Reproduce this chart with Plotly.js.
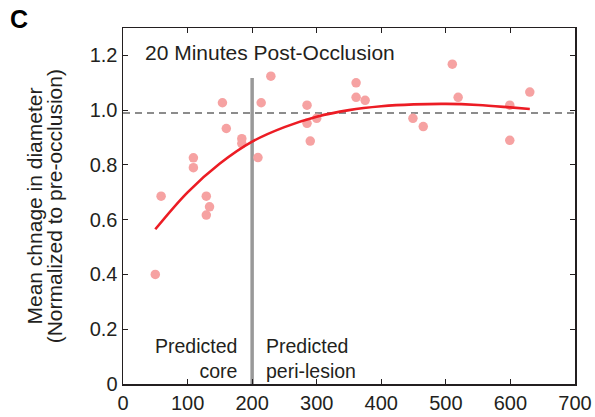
<!DOCTYPE html>
<html>
<head>
<meta charset="utf-8">
<script src="https://cdn.plot.ly/plotly-3.0.1.min.js"></script>
<style>html,body{margin:0;padding:0;background:#fff;}#chart{width:595px;height:417px;}</style>
</head>
<body>
<div id="chart"></div>
<script>
// Scatter data: distance (x) vs normalized mean change in diameter (y)
const pointX = [50, 59, 109, 109, 129, 129, 134, 154, 160, 184, 184, 209, 214, 229, 285, 285, 290, 300, 361, 361, 375, 449, 465, 510, 519, 599, 599, 630];
const pointY = [0.40, 0.686, 0.826, 0.79, 0.686, 0.617, 0.647, 1.027, 0.933, 0.896, 0.878, 0.827, 1.027, 1.124, 1.018, 0.952, 0.887, 0.97, 1.10, 1.047, 1.036, 0.97, 0.94, 1.168, 1.047, 1.018, 0.89, 1.066];

// Fitted curve
const fitX = [50, 100, 150, 200, 250, 300, 350, 400, 450, 500, 550, 600, 630];
const fitY = [0.565, 0.70, 0.805, 0.885, 0.938, 0.976, 1.000, 1.014, 1.021, 1.023, 1.019, 1.010, 1.004];

// Reference lines
const baselineX = [0, 700];
const baselineY = [0.99, 0.99];
const boundaryX = [200, 200];
const boundaryY = [0, 1.117];

const xTicks = [0, 100, 200, 300, 400, 500, 600, 700];
const yTicks = [0, 0.2, 0.4, 0.6, 0.8, 1.0, 1.2];
const yTickText = ['0', '0.2', '0.4', '0.6', '0.8', '1.0', '1.2'];

const yTitleLines = ['Mean chnage in diameter', '(Normalized to pre-occlusion)'];

const FONT = 'Liberation Sans, Arial, Helvetica, sans-serif';
const txt = '#231f20';

const traces = [
  {x: baselineX, y: baselineY, mode: 'lines', line: {color: '#8c8c8c', width: 2, dash: '7px,5px'}, hoverinfo: 'skip'},
  {x: boundaryX, y: boundaryY, mode: 'lines', line: {color: '#999999', width: 3.5}, hoverinfo: 'skip'},
  {x: pointX, y: pointY, mode: 'markers', marker: {color: '#f6a2a2', size: 9.5}},
  {x: fitX, y: fitY, mode: 'lines', line: {color: '#ec1c24', width: 2.6, shape: 'spline', smoothing: 1.0}}
];

const layout = {
  width: 595, height: 417,
  margin: {l: 123, r: 20, t: 28, b: 33},
  showlegend: false,
  paper_bgcolor: '#fff', plot_bgcolor: '#fff',
  font: {family: FONT, color: txt, size: 20},
  xaxis: {
    range: [0, 700], tickvals: xTicks, ticks: 'inside', ticklen: 5, tickwidth: 1,
    tickcolor: txt, showline: true, linecolor: txt, linewidth: 1.5, mirror: 'ticks',
    showgrid: false, zeroline: false, tickfont: {size: 20, family: FONT, color: txt}
  },
  yaxis: {
    range: [0, 1.3], tickvals: yTicks, ticktext: yTickText, ticks: 'inside', ticklen: 5, tickwidth: 1,
    tickcolor: txt, showline: true, linecolor: txt, linewidth: 1.5, mirror: 'ticks',
    showgrid: false, zeroline: false, tickfont: {size: 20, family: FONT, color: txt}
  },
  annotations: [
    {text: yTitleLines[0], xref: 'paper', yref: 'paper', x: -0.198, y: 0.5, xanchor: 'center', yanchor: 'middle', textangle: -90, showarrow: false, font: {size: 21, family: FONT, color: txt}},
    {text: yTitleLines[1], xref: 'paper', yref: 'paper', x: -0.152, y: 0.5, xanchor: 'center', yanchor: 'middle', textangle: -90, showarrow: false, font: {size: 21, family: FONT, color: txt}},
    {text: '20 Minutes Post-Occlusion', xref: 'x', yref: 'y', x: 31, y: 1.21, xanchor: 'left', yanchor: 'middle', showarrow: false, font: {size: 21, family: FONT, color: txt}},
    {text: 'Predicted<br>core', align: 'right', xref: 'x', yref: 'paper', x: 179, y: 0.0, xanchor: 'right', yanchor: 'bottom', showarrow: false, font: {size: 19.5, family: FONT, color: txt}},
    {text: 'Predicted<br>peri-lesion', align: 'left', xref: 'x', yref: 'paper', x: 219, y: 0.0, xanchor: 'left', yanchor: 'bottom', showarrow: false, font: {size: 19.5, family: FONT, color: txt}},
    {text: '<b>C</b>', xref: 'paper', yref: 'paper', x: -0.255, y: 1.07, xanchor: 'left', yanchor: 'top', showarrow: false, font: {size: 25, family: FONT, color: '#000'}}
  ]
};

Plotly.newPlot('chart', traces, layout, {displayModeBar: false, staticPlot: true});
</script>
</body>
</html>
